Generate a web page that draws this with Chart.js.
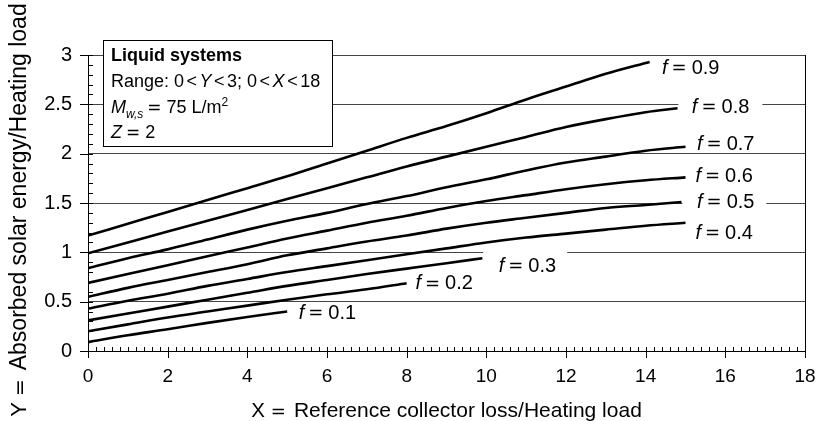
<!DOCTYPE html>
<html><head><meta charset="utf-8">
<script src="https://cdn.jsdelivr.net/npm/chart.js@4.4.0/dist/chart.umd.min.js"></script>
<style>html,body{margin:0;padding:0;background:#fff}canvas{display:block}</style>
</head><body>
<canvas id="c" width="819" height="421"></canvas>
<script>
// ---- data ----
const seriesLabels = ['0.1','0.2','0.3','0.4','0.5','0.6','0.7','0.8','0.9'];
const f01X = [0,1,2,3,4,5];
const f01Y = [0.09,0.16,0.22,0.285,0.345,0.40];
const f02X = [0,1,2,3,4,5,6,7,8];
const f02Y = [0.20,0.27,0.34,0.40,0.46,0.52,0.575,0.625,0.687];
const f03X = [0,1,2,3,4,5,6,7,8,9,9.9];
const f03Y = [0.31,0.38,0.45,0.52,0.59,0.66,0.72,0.78,0.835,0.89,0.94];
const f04X = [0,1,2,3,4,5,6,7,8,9,10,11,12,13,14,15];
const f04Y = [0.43,0.51,0.58,0.66,0.73,0.80,0.86,0.92,0.98,1.04,1.10,1.15,1.19,1.23,1.27,1.30];
const f05X = [0,1,2,3,4,5,6,7,8,9,10,11,12,13,14,14.9];
const f05Y = [0.55,0.64,0.72,0.80,0.88,0.97,1.04,1.11,1.17,1.24,1.30,1.35,1.40,1.45,1.48,1.51];
const f06X = [0,1,2,3,4,5,6,7,8,9,10,11,12,13,14,15];
const f06Y = [0.69,0.78,0.87,0.96,1.05,1.14,1.22,1.30,1.37,1.45,1.52,1.58,1.64,1.69,1.73,1.76];
const f07X = [0,1,2,3,4,5,6,7,8,9,10,11,12,13,14,15];
const f07Y = [0.84,0.94,1.03,1.13,1.23,1.32,1.40,1.49,1.57,1.66,1.74,1.83,1.91,1.97,2.03,2.07];
const f08X = [0,1,2,3,4,5,6,7,8,9,10,11,12,13,14,14.8];
const f08Y = [0.99,1.10,1.21,1.32,1.43,1.54,1.65,1.76,1.87,1.97,2.07,2.17,2.27,2.35,2.42,2.46];
const f09X = [0,1,2,3,4,5,6,7,8,9,10,11,12,13,14.1];
const f09Y = [1.17,1.29,1.41,1.53,1.65,1.77,1.90,2.03,2.16,2.28,2.41,2.55,2.68,2.81,2.93];
const xTickValues = [0,2,4,6,8,10,12,14,16,18];
const yTickValues = [0,0.5,1,1.5,2,2.5,3];
const xTitleVar = 'X', xTitleText = 'Reference collector loss/Heating load';
const yTitleVar = 'Y', yTitleText = 'Absorbed solar energy/Heating load';

const allX = [f01X,f02X,f03X,f04X,f05X,f06X,f07X,f08X,f09X];
const allY = [f01Y,f02Y,f03Y,f04Y,f05Y,f06Y,f07Y,f08Y,f09Y];

// ---- label anchors (data coordinates) & styling ----
const labelAnchors = [[5.29,0.382],[8.22,0.680],[10.31,0.856],[15.25,1.195],[15.29,1.506],[15.25,1.770],[15.29,2.092],[15.16,2.465],[14.41,2.862]];
const gridGaps = [{y:2.5,x0:14.82,x1:16.93},{y:1.5,x0:14.92,x1:17.03},{y:1.0,x0:9.92,x1:12.03}];
const FF = '"Liberation Sans", Arial, Helvetica, sans-serif';
const FM = '"DejaVu Sans", sans-serif';

function rich(ctx, x, y, parts, measureOnly){
  let w = 0;
  for(const p of parts){
    ctx.font = p.f;
    if(!measureOnly) ctx.fillText(p.t, x + w + (p.pre||0), y + (p.dy||0));
    w += (p.pre||0) + ctx.measureText(p.t).width + (p.post||0);
  }
  return w;
}

const decorPlugin = {
  id:'decor',
  beforeDatasetsDraw(chart){
    const ctx = chart.ctx, xs = chart.scales.x, ys = chart.scales.y;
    ctx.save();
    ctx.fillStyle = '#fff';
    for(const g of gridGaps){
      const py = ys.getPixelForValue(g.y);
      const a = xs.getPixelForValue(g.x0), b = xs.getPixelForValue(g.x1);
      ctx.fillRect(a, py-2.5, b-a, 5);
    }
    ctx.restore();
  },
  afterDraw(chart){
    const ctx = chart.ctx, xs = chart.scales.x, ys = chart.scales.y;
    const L = xs.left, R = xs.right, T = ys.top, B = ys.bottom;
    ctx.save();
    ctx.strokeStyle = '#000'; ctx.lineWidth = 1;
    ctx.beginPath();
    const rx = Math.round(R)+0.5;
    ctx.moveTo(rx, Math.round(T)); ctx.lineTo(rx, Math.round(B)+1);
    for(let i=0;i<=90;i++){
      const v = i*0.2, major = (i%10===0);
      const px = Math.round(xs.getPixelForValue(v))+0.5;
      ctx.moveTo(px, Math.round(B)-4); ctx.lineTo(px, Math.round(B)+(major?7:0));
    }
    for(let i=0;i<=30;i++){
      const v = i*0.1, major = (i%5===0);
      const py = Math.round(ys.getPixelForValue(v))+0.5;
      ctx.moveTo(Math.round(L)+(major?-8:0), py); ctx.lineTo(Math.round(L)+5, py);
    }
    ctx.stroke();

    // curve labels
    ctx.fillStyle = '#000'; ctx.textBaseline = 'middle'; ctx.textAlign = 'left';
    labelAnchors.forEach((a,i)=>{
      const px = xs.getPixelForValue(a[0]), py = ys.getPixelForValue(a[1]);
      rich(ctx, px, py, [{t:'f', f:'italic 20px '+FF},{t:'=', f:'18px '+FM, pre:4, post:5},{t:seriesLabels[i], f:'20px '+FF}]);
    });

    // axis titles
    ctx.textBaseline = 'alphabetic';
    const xParts = [{t:xTitleVar, f:'20.5px '+FF},{t:'=', f:'18px '+FM, pre:6, post:8},{t:xTitleText, f:'21px '+FF}];
    const xw = rich(ctx,0,0,xParts,true);
    rich(ctx, (L+R)/2 - xw/2, 417, xParts);
    const yParts = [{t:yTitleVar, f:'22px '+FF},{t:'=', f:'20px '+FM, pre:6, post:9},{t:yTitleText, f:'23px '+FF}];
    const yw = rich(ctx,0,0,yParts,true);
    ctx.save();
    ctx.translate(26, 210);
    ctx.rotate(-Math.PI/2);
    rich(ctx, -yw/2, 0, yParts);
    ctx.restore();

    // info box
    const bx = L+15, by = T-15, bw = 229, bh = 106;
    ctx.fillStyle = '#fff';
    ctx.fillRect(bx, by, bw, bh);
    ctx.strokeStyle = '#000'; ctx.lineWidth = 1;
    ctx.strokeRect(Math.round(bx)+0.5, Math.round(by)+0.5, bw, bh);
    ctx.fillStyle = '#000';
    const tx = bx + 8;
    const n = '18px '+FF, it = 'italic 18px '+FF, sm = 'italic 12px '+FF, smn = '12px '+FF;
    rich(ctx, tx, by+21, [{t:'Liquid systems', f:'bold 18px '+FF}]);
    rich(ctx, tx, by+47, [{t:'Range: 0', f:n},{t:'<', f:n, pre:2.5, post:2.5},{t:'Y', f:it},{t:'<', f:n, pre:2.5, post:2.5},{t:'3; 0', f:n},{t:'<', f:n, pre:2.5, post:2.5},{t:'X', f:it},{t:'<', f:n, pre:2.5, post:2.5},{t:'18', f:n}]);
    rich(ctx, tx, by+73, [{t:'M', f:it},{t:'w,s', f:sm, dy:5},{t:'=', f:'17px '+FM, pre:4, post:5},{t:'75 L/m', f:n},{t:'2', f:smn, dy:-7}]);
    rich(ctx, tx, by+98, [{t:'Z', f:it},{t:'=', f:'17px '+FM, pre:4, post:5},{t:'2', f:n}]);
    ctx.restore();
  }
};

const datasets = allX.map((xs,i)=>({
  label: 'f = ' + seriesLabels[i],
  data: xs.map((x,j)=>({x:x, y:allY[i][j]})),
  borderColor:'#000', borderWidth:2.6, pointRadius:0,
  tension:0.3, cubicInterpolationMode:'monotone', fill:false
}));

new Chart(document.getElementById('c').getContext('2d'), {
  type:'line',
  data:{datasets},
  options:{
    responsive:false, animation:false, devicePixelRatio:1,
    layout:{padding:{left:0, top:55, right:14, bottom:0}},
    plugins:{legend:{display:false}, tooltip:{enabled:false}},
    scales:{
      x:{
        type:'linear', min:0, max:18,
        afterBuildTicks: s => { s.ticks = xTickValues.map(v=>({value:v})); },
        ticks:{color:'#000', font:{family:FF, size:19}, padding:14, maxRotation:0, autoSkip:false, callback: v => String(v)},
        grid:{display:false, drawTicks:false},
        border:{display:true, color:'#000', width:1},
        title:{display:false},
        afterFit: s => { s.height = 70; s.paddingLeft = 0; s.paddingRight = 0; }
      },
      y:{
        type:'linear', min:0, max:3,
        afterBuildTicks: s => { s.ticks = yTickValues.map(v=>({value:v})); },
        ticks:{color:'#000', font:{family:FF, size:20}, padding:16, autoSkip:false, callback: v => String(v)},
        grid:{color:'#444', lineWidth:1, drawTicks:false},
        border:{display:true, color:'#000', width:1},
        title:{display:false},
        afterFit: s => { s.width = 88; s.paddingTop = 0; s.paddingBottom = 0; }
      }
    }
  },
  plugins:[decorPlugin]
});
</script>
</body></html>
